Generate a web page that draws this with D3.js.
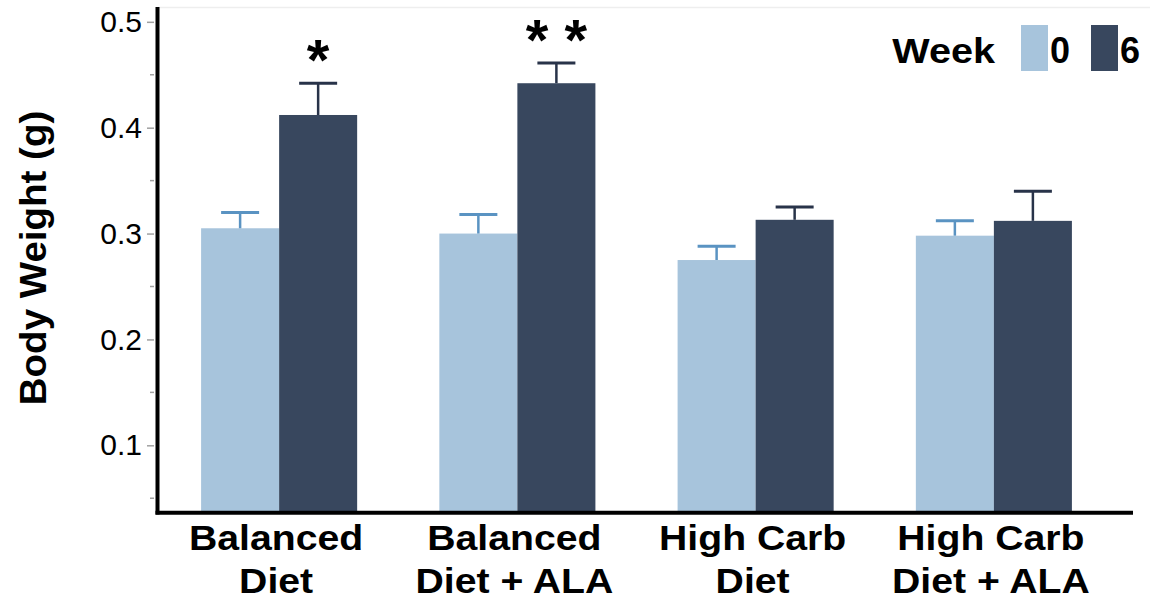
<!DOCTYPE html>
<meta charset="utf-8">
<script src="https://d3js.org/d3.v7.min.js"></script>
<style>
  body { margin: 0; background: #fff; }
  text { font-family: "Liberation Sans", Arial, sans-serif; }
</style>
<div id="chart"></div>
<script>
// data
const categories = ["Balanced Diet", "Balanced Diet + ALA", "High Carb Diet", "High Carb Diet + ALA"];
const labelLines = [["Balanced", "Diet"], ["Balanced", "Diet + ALA"], ["High Carb", "Diet"], ["High Carb", "Diet + ALA"]];
const weeks = ["0", "6"];
const week0 = [0.305, 0.300, 0.275, 0.298];
const week0Err = [0.015, 0.018, 0.013, 0.014];
const week6 = [0.412, 0.442, 0.313, 0.312];
const week6Err = [0.030, 0.019, 0.012, 0.028];
const signif = ["*", "* *", "", ""];
const yTicks = [0.1, 0.2, 0.3, 0.4, 0.5];
const yMinor = [0.05, 0.15, 0.25, 0.35, 0.45];

const width = 1150, height = 603;
const colors = { "0": "#a7c4dc", "6": "#38475e" };
const errColors = { "0": "#5a93c2", "6": "#283349" };
const stretch = 1.12; // the lettering in the original is a bit wide

const svg = d3.select("#chart").append("svg")
    .attr("width", width)
    .attr("height", height);

const x = d3.scaleBand()
    .domain(categories)
    .range([160, 1113])
    .paddingInner(0.345)
    .paddingOuter(0.1725);

const xSub = d3.scaleBand()
    .domain(weeks)
    .range([0, x.bandwidth()]);

const y = d3.scaleLinear()
    .domain([0.037, 0.514])
    .range([512, 7]);

// faint frame line at top
svg.append("line")
    .attr("x1", 158).attr("x2", width)
    .attr("y1", 7.5).attr("y2", 7.5)
    .style("stroke", "#eeeeee")
    .style("stroke-width", 1.5);

// bars
const rows = categories.map((c, i) => ({
    cat: c,
    vals: [
        { week: "0", v: week0[i], e: week0Err[i] },
        { week: "6", v: week6[i], e: week6Err[i] }
    ]
}));

const groups = svg.selectAll("g.grp")
    .data(rows)
    .join("g")
    .attr("class", "grp")
    .attr("transform", d => `translate(${x(d.cat)},0)`);

groups.selectAll("rect")
    .data(d => d.vals)
    .join("rect")
    .attr("x", d => xSub(d.week))
    .attr("y", d => y(d.v))
    .attr("width", xSub.bandwidth())
    .attr("height", d => y.range()[0] - y(d.v))
    .style("fill", d => colors[d.week]);

// error bars (upper only)
groups.selectAll("line.stem")
    .data(d => d.vals)
    .join("line")
    .attr("class", "stem")
    .attr("x1", d => xSub(d.week) + xSub.bandwidth() / 2)
    .attr("x2", d => xSub(d.week) + xSub.bandwidth() / 2)
    .attr("y1", d => y(d.v))
    .attr("y2", d => y(d.v + d.e))
    .style("stroke", d => errColors[d.week])
    .style("stroke-width", 2.5);

groups.selectAll("line.cap")
    .data(d => d.vals)
    .join("line")
    .attr("class", "cap")
    .attr("x1", d => xSub(d.week) + xSub.bandwidth() / 2 - 19)
    .attr("x2", d => xSub(d.week) + xSub.bandwidth() / 2 + 19)
    .attr("y1", d => y(d.v + d.e))
    .attr("y2", d => y(d.v + d.e))
    .style("stroke", d => errColors[d.week])
    .style("stroke-width", 3);

// significance stars
svg.selectAll("text.sig")
    .data(categories)
    .join("text")
    .attr("class", "sig")
    .attr("x", (d, i) => x(d) + xSub("6") + xSub.bandwidth() / 2)
    .attr("y", (d, i) => y(week6[i] + week6Err[i]) - 3)
    .attr("text-anchor", "middle")
    .style("font-size", "58px")
    .style("font-weight", "bold")
    .style("fill", "#000")
    .text((d, i) => signif[i]);

// y axis ticks
const yAxis = svg.append("g").attr("transform", "translate(154,0)");
yAxis.call(d3.axisLeft(y).tickValues(yTicks).tickSize(7).tickPadding(5).tickFormat(d3.format(".1f")))
    .call(g => g.select(".domain").remove())
    .call(g => g.selectAll(".tick line").style("stroke", "#a0a0a0").style("stroke-width", 1.5))
    .call(g => g.selectAll(".tick text")
        .style("font-size", "30px")
        .style("fill", "#000")
        .style("font-family", "'Liberation Sans', Arial, sans-serif"));

yAxis.selectAll("line.minor")
    .data(yMinor)
    .join("line")
    .attr("class", "minor")
    .attr("x1", -4).attr("x2", 0)
    .attr("y1", d => y(d)).attr("y2", d => y(d))
    .style("stroke", "#a0a0a0")
    .style("stroke-width", 1.5);

// spines
svg.append("line")
    .attr("x1", 157.5).attr("x2", 157.5)
    .attr("y1", 7).attr("y2", 514.5)
    .style("stroke", "#000")
    .style("stroke-width", 4);
svg.append("line")
    .attr("x1", 155.5).attr("x2", 1133)
    .attr("y1", 512.7).attr("y2", 512.7)
    .style("stroke", "#000")
    .style("stroke-width", 4);

// x labels
const xl = svg.selectAll("text.xlab")
    .data(categories)
    .join("text")
    .attr("class", "xlab")
    .attr("transform", d => `translate(${x(d) + x.bandwidth() / 2 - 3},0) scale(${stretch},1)`)
    .attr("text-anchor", "middle")
    .style("font-size", "35px")
    .style("font-weight", "bold")
    .style("fill", "#000");
xl.selectAll("tspan")
    .data((d, i) => labelLines[i])
    .join("tspan")
    .attr("x", 0)
    .attr("y", (d, j) => 550 + j * 43)
    .text(d => d);

// y label
svg.append("text")
    .attr("transform", `translate(46,258) rotate(-90) scale(1.07,1)`)
    .attr("text-anchor", "middle")
    .style("font-size", "36px")
    .style("font-weight", "bold")
    .style("fill", "#000")
    .text("Body Weight (g)");

// legend
svg.append("text")
    .attr("transform", `translate(995,63) scale(1.1,1)`)
    .attr("text-anchor", "end")
    .style("font-size", "36px")
    .style("font-weight", "bold")
    .text("Week");

const leg = svg.selectAll("g.leg")
    .data(weeks)
    .join("g")
    .attr("class", "leg")
    .attr("transform", (d, i) => `translate(${1021 + i * 70},25)`);
leg.append("rect")
    .attr("width", 27).attr("height", 46)
    .style("fill", d => colors[d]);
leg.append("text")
    .attr("x", 29).attr("y", 38)
    .style("font-size", "36px")
    .style("font-weight", "bold")
    .text(d => d);
</script>
